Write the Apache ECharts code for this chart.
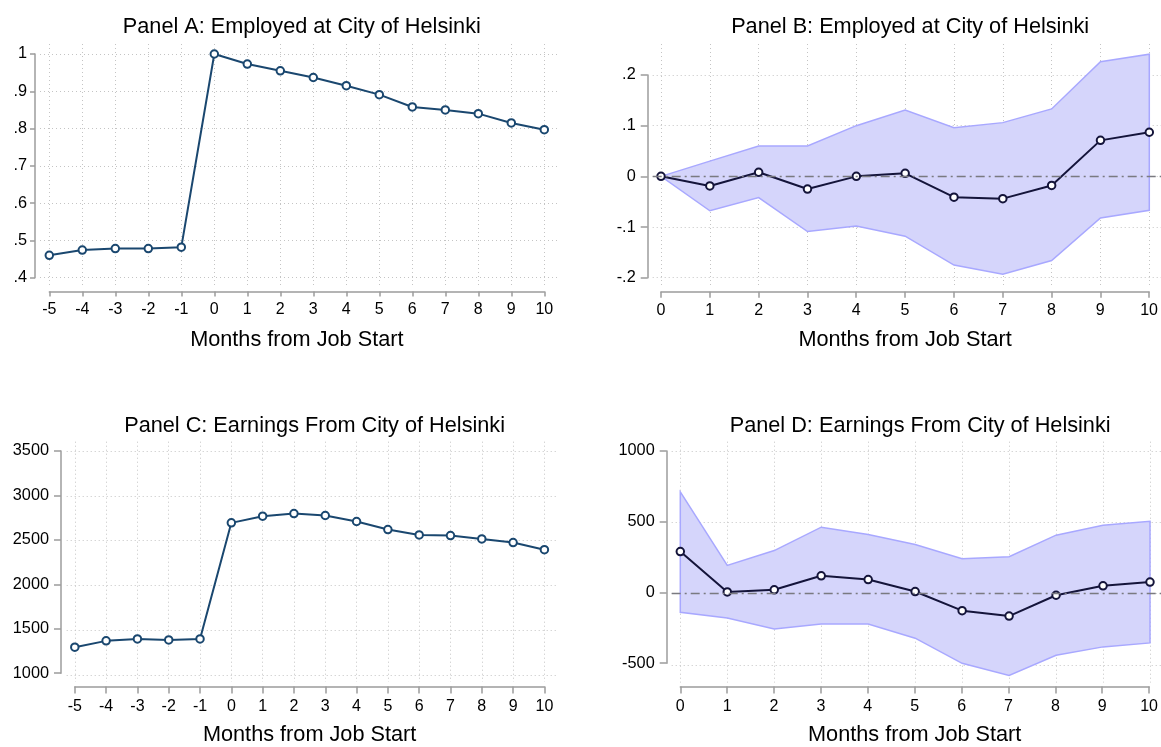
<!DOCTYPE html>
<html><head><meta charset="utf-8">
<script src="https://cdn.jsdelivr.net/npm/echarts@6/dist/echarts.min.js"></script>
<style>html,body{margin:0;padding:0;background:#fff}#c{width:1161px;height:747px}</style>
</head><body><div id="c"></div>
<script>
// ---- data ----
const monthsPre = [-5,-4,-3,-2,-1,0,1,2,3,4,5,6,7,8,9,10];
const monthsPost = [0,1,2,3,4,5,6,7,8,9,10];
const employedMean = [0.460,0.474,0.478,0.478,0.482,1.000,0.973,0.955,0.937,0.915,0.891,0.858,0.850,0.840,0.815,0.797];
const employedEst = [0,-0.019,0.008,-0.025,0.000,0.006,-0.041,-0.044,-0.018,0.071,0.087];
const employedHi  = [0,0.030,0.060,0.060,0.100,0.131,0.096,0.106,0.133,0.226,0.241];
const employedLo  = [0,-0.068,-0.042,-0.109,-0.098,-0.118,-0.175,-0.193,-0.166,-0.082,-0.067];
const earningsMean = [1310,1381,1403,1392,1403,2698,2772,2802,2780,2713,2623,2563,2556,2519,2478,2399];
const earningsEst = [295,12,27,125,99,15,-119,-157,-11,55,81];
const earningsHi  = [713,198,302,466,414,344,245,259,410,480,508];
const earningsLo  = [-131,-171,-248,-213,-213,-312,-488,-573,-432,-373,-345];
const yTicksA = [0.4,0.5,0.6,0.7,0.8,0.9,1];
const yTicksB = [-0.2,-0.1,0,0.1,0.2];
const yTicksC = [1000,1500,2000,2500,3000,3500];
const yTicksD = [-500,0,500,1000];
const panelTitles = ['Panel A: Employed at City of Helsinki','Panel B: Employed at City of Helsinki',
  'Panel C: Earnings From City of Helsinki','Panel D: Earnings From City of Helsinki'];
const xTitle = 'Months from Job Start';

// ---- layout ----
const FONT = "'Liberation Sans', Arial, Helvetica, sans-serif";
const panels = [
  {x: monthsPre, yt: yTicksA, inner:{l:49.3,r:544.3,t:54,b:277.7}, outer:{l:40,r:557,t:44,b:285}, axX:291.5, axY:35, titleTop:11.5, ym:8, ytl:5, xtl:5, kind:'mean', y: employedMean},
  {x: monthsPost, yt: yTicksB, inner:{l:661,r:1149.3,t:75,b:277.7}, outer:{l:652.7,r:1161,t:44,b:285}, axX:291.7, axY:647.7, titleTop:11.5, ym:12, ytl:7, xtl:6, kind:'est', y: employedEst, hi: employedHi, lo: employedLo},
  {x: monthsPre, yt: yTicksC, inner:{l:74.8,r:544.4,t:451,b:675}, outer:{l:66.7,r:556,t:441.7,b:682}, axX:688.3, axY:61, titleTop:410, ym:12, ytl:7, xtl:7, kind:'mean', y: earningsMean},
  {x: monthsPost, yt: yTicksD, inner:{l:680.3,r:1150,t:451,b:665}, outer:{l:671.7,r:1161,t:441.7,b:682.5}, axX:688.3, axY:666.7, titleTop:410, ym:12, ytl:7, xtl:7, kind:'est', y: earningsEst, hi: earningsHi, lo: earningsLo}
];

function fmt(v){ return String(+v.toFixed(6)).replace(/^(-?)0\./,'$1.'); }

const grid=[], xAxis=[], yAxis=[], series=[], title=[];
panels.forEach((p,i)=>{
  const xmin=p.x[0], xmax=p.x[p.x.length-1];
  const ymin=p.yt[0], ymax=p.yt[p.yt.length-1];
  const I=p.inner, O=p.outer;
  const sx=(xmax-xmin)/(I.r-I.l), sy=(ymax-ymin)/(I.b-I.t);
  const oxmin=xmin-(I.l-O.l)*sx, oxmax=xmax+(O.r-I.r)*sx;
  const oymin=ymin-(O.b-I.b)*sy, oymax=ymax+(I.t-O.t)*sy;
  grid.push({left:O.l, top:O.t, width:O.r-O.l, height:O.b-O.t});
  grid.push({left:I.l, top:I.t, width:I.r-I.l, height:I.b-I.t});
  const gl={show:true, lineStyle:{color:'#c4c4c4', type:[1,3], width:1}};
  xAxis.push({gridIndex:2*i, type:'value', min:oxmin, max:oxmax, axisLine:{show:false, onZero:false},
    axisTick:{show:false, customValues:p.x}, axisLabel:{show:false, customValues:p.x}, splitLine:gl});
  yAxis.push({gridIndex:2*i, type:'value', min:oymin, max:oymax, axisLine:{show:false, onZero:false},
    axisTick:{show:false, customValues:p.yt}, axisLabel:{show:false, customValues:p.yt}, splitLine:gl});
  const axLine={show:true, onZero:false, lineStyle:{color:'#9c9c9c', width:1.5}};
  xAxis.push({gridIndex:2*i+1, type:'value', position:'bottom', min:xmin, max:xmax, interval:1, offset:p.axX-I.b,
    axisLine:axLine, axisTick:{show:true, length:p.xtl, lineStyle:{color:'#9c9c9c', width:1.5}}, splitLine:{show:false},
    axisLabel:{color:'#000', fontSize:16, fontFamily:FONT, margin:p.xtl+5, formatter:fmt, showMinLabel:true, showMaxLabel:true},
    name:xTitle, nameLocation:'middle', nameGap:37.5, nameTextStyle:{color:'#000', fontSize:21.7, fontFamily:FONT}});
  yAxis.push({gridIndex:2*i+1, type:'value', position:'left', min:ymin, max:ymax, interval:p.yt[1]-p.yt[0], offset:I.l-p.axY,
    axisLine:axLine, axisTick:{show:true, length:p.ytl, customValues:p.yt, lineStyle:{color:'#9c9c9c', width:1.5}}, splitLine:{show:false},
    axisLabel:{color:'#000', fontSize:16.3, fontFamily:FONT, margin:p.ym, formatter:fmt, customValues:p.yt}});
  title.push({text:panelTitles[i], left:(I.l+I.r)/2, top:p.titleTop, textAlign:'center',
    textStyle:{color:'#000', fontSize:21.7, fontWeight:'normal', fontFamily:FONT}});
  const xs=p.x;
  if(p.kind==='mean'){
    series.push({type:'line', xAxisIndex:2*i, yAxisIndex:2*i, data:xs.map((m,k)=>[m,p.y[k]]),
      symbol:'emptyCircle', symbolSize:7.5, color:'#1a476f',
      lineStyle:{color:'#1a476f', width:2}, itemStyle:{color:'#1a476f', borderWidth:1.8}, z:3});
  } else {
    const hi=p.hi, lo=p.lo;
    series.push({type:'custom', xAxisIndex:2*i, yAxisIndex:2*i, silent:true, z:1,
      data:xs.map((m,k)=>[m,lo[k],hi[k]]), encode:{x:0,y:[1,2]},
      renderItem:(params,api)=>{
        if(params.dataIndex!==0) return null;
        const top=hi.map((v,k)=>api.coord([xs[k],v]));
        const bot=lo.map((v,k)=>api.coord([xs[k],v])).reverse();
        return {type:'polygon', shape:{points:top.concat(bot)}, style:{fill:'#d5d5fb', stroke:'#a8a8ff', lineWidth:1.5}};
      },
      markLine:{silent:true, symbol:'none', label:{show:false}, animation:false,
        lineStyle:{color:'#7a7a80', type:[9,4,2,4], width:1.3}, data:[{yAxis:0}]}});
    series.push({type:'line', xAxisIndex:2*i, yAxisIndex:2*i, data:xs.map((m,k)=>[m,p.y[k]]),
      symbol:'emptyCircle', symbolSize:7.5, color:'#14143a',
      lineStyle:{color:'#14143a', width:2}, itemStyle:{color:'#14143a', borderWidth:1.8}, z:3});
  }
});

const chart=echarts.init(document.getElementById('c'), null, {renderer:'canvas'});
chart.setOption({animation:false, backgroundColor:'#fff', title, grid, xAxis, yAxis, series});
</script></body></html>
